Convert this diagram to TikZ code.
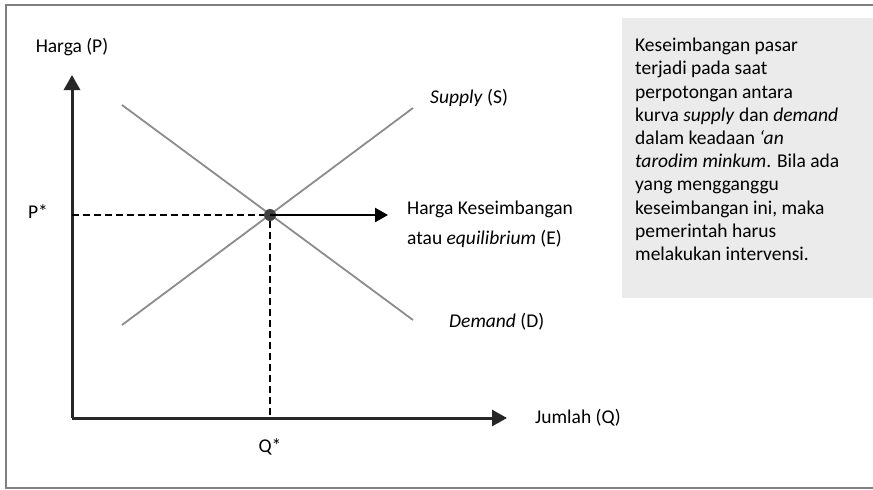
\documentclass[tikz,border=0pt]{standalone}
\usepackage{fontspec}
\setmainfont{Carlito}
\usetikzlibrary{arrows.meta,positioning}

\begin{document}
\begin{tikzpicture}[x=1pt,y=-1pt]
    \tikzstyle{every node}=[font=\fontsize{19.5}{23.2}\selectfont, inner sep=0pt]
    \tikzstyle{axis}=[line width=3pt, draw=black!85, -{Triangle[length=15pt,width=16pt]}]
    \tikzstyle{curve}=[line width=1.8pt, draw=black!45]
    \tikzstyle{guide}=[line width=1.5pt, dash pattern=on 7pt off 4pt]
    \useasboundingbox (0,0) rectangle (873,490);
    \draw[black!50, line width=2pt] (875,5) -- (6,5) -- (6,488) -- (875,488);

    % axes
    \coordinate (O) at (72,418);
    \coordinate (Ptop) at (72,75);
    \coordinate (Qend) at (507,418);
    \draw[axis] (O) -- (Ptop);
    \draw[axis] (O) -- (Qend);
    \node (harga) at (72,47) {Harga (P)};
    \node[anchor=west] (jumlah) at (535,418) {Jumlah (Q)};

    % supply and demand
    \coordinate (s1) at (122,325);
    \coordinate (s2) at (413,108);
    \coordinate (d1) at (122,105);
    \coordinate (d2) at (413,320);
    \draw[curve] (s1) -- (s2);
    \draw[curve] (d1) -- (d2);
    \node[anchor=west] (supply) at (430,98) {\textit{Supply} (S)};
    \node[anchor=west] (demand) at (449,322) {\textit{Demand} (D)};

    % equilibrium
    \node[circle, fill=black!75, minimum size=12pt] (E) at (270,215) {};
    \coordinate (Pax) at (72,215);
    \coordinate (Qax) at (270,418);
    \draw[guide] (Pax) -- (E);
    \draw[guide] (E) -- (Qax);
    \node (pstar) at (38,212) {P*};
    \node (qstar) at (270,447) {Q*};
    \coordinate (Eend) at (388,215);
    \draw[line width=2.5pt, -{Triangle[length=13pt,width=14pt]}] (E.center) -- (Eend);
    \node[anchor=west, align=left, font=\fontsize{19.5}{30}\selectfont] (eq) at (407,224) {Harga Keseimbangan\\atau \textit{equilibrium} (E)};

    % note
    \node[fill=black!8, anchor=north west, minimum width=255pt, minimum height=280pt] (box) at (622,18) {};
    \node[anchor=north west, align=left] (note) at (635,38) {Keseimbangan pasar\\terjadi pada saat\\perpotongan antara\\kurva \textit{supply} dan \textit{demand}\\dalam keadaan \textit{‘an}\\\textit{tarodim minkum}. Bila ada\\yang mengganggu\\keseimbangan ini, maka\\pemerintah harus\\melakukan intervensi.};
\end{tikzpicture}
\end{document}
